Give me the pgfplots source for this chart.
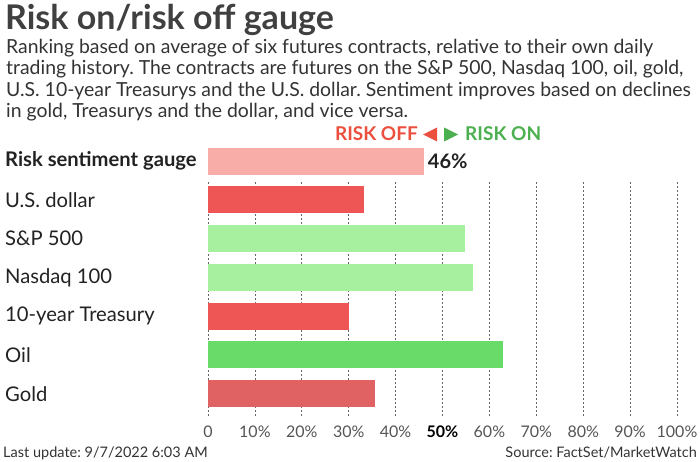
\documentclass[border=0pt]{standalone}
\usepackage{fontspec}
\setmainfont{Lato}
\usepackage{pgfplots}
\pgfplotsset{compat=1.18}
\definecolor{titlegray}{HTML}{404040}
\definecolor{subgray}{HTML}{333333}
\definecolor{labgray}{HTML}{222222}
\definecolor{tickgray}{HTML}{555555}
\definecolor{gridgray}{HTML}{666666}
\definecolor{cpink}{HTML}{F8ADA9}
\definecolor{cred}{HTML}{EE5555}
\definecolor{clgreen}{HTML}{A6F0A0}
\definecolor{cgreen}{HTML}{68DB68}
\definecolor{cgold}{HTML}{E06262}
\definecolor{offred}{HTML}{EB4F3E}
\definecolor{ongreen}{HTML}{4CAF50}
\frenchspacing
\begin{document}
\begin{tikzpicture}[x=1pt,y=1pt]
\path[use as bounding box] (0,0) rectangle (700,-462);
\node[anchor=base west, inner sep=0, text=titlegray, font=\fontsize{34}{36}\selectfont\bfseries] at (5,-30) {Risk on/risk off gauge};
\node[anchor=north west, inner sep=0, align=left, text=subgray, font=\fontsize{19.4}{21.5}\selectfont] at (6,-39) {Ranking based on average of six futures contracts, relative to their own daily\\trading history. The contracts are futures on the S\&P 500, Nasdaq 100, oil, gold,\\U.S. 10-year Treasurys and the U.S. dollar. Sentiment improves based on declines\\in gold, Treasurys and the dollar, and vice versa.};
% legend
\node[anchor=base east, inner sep=0, text=offred, font=\fontsize{19}{21}\selectfont\bfseries] at (418,-141) {RISK OFF};
\fill[offred] (423,-134.5) -- (437,-127.5) -- (437,-141.5) -- cycle;
\fill[ongreen] (458,-134.5) -- (444,-127.5) -- (444,-141.5) -- cycle;
\node[anchor=base west, inner sep=0, text=ongreen, font=\fontsize{19}{21}\selectfont\bfseries] at (465,-141) {RISK ON};
\begin{axis}[
  at={(208pt,-141.6pt)}, anchor=north west,
  scale only axis, width=469pt, height=271.6pt,
  xmin=0, xmax=100, ymin=-0.5, ymax=6.5, y dir=reverse,
  xbar, bar width=27pt, bar shift=0pt,
  clip=false,
  /pgf/number format/assume math mode=true,
  axis line style={draw=none},
  major tick length=0pt,
  xtick={0,10,...,100},
  xticklabels={0,10\%,20\%,30\%,40\%,{\textcolor{black}{\bfseries 50\%}},60\%,70\%,80\%,90\%,100\%},
  xticklabel style={anchor=base, inner sep=0, yshift=-24pt, text=tickgray, font=\fontsize{16}{18}\selectfont},
  ytick={0,...,6},
  yticklabels={{\bfseries Risk sentiment gauge},U.S. dollar,S\&P 500,Nasdaq 100,10-year Treasury,Oil,Gold},
  yticklabel style={anchor=west, inner sep=0, xshift=-203pt, text=labgray, font=\fontsize{20.2}{22}\selectfont},
]
\pgfplotsinvokeforeach{0,10,...,100}{
  \draw[gridgray, line width=0.8pt, dash pattern=on 1.5pt off 2.5pt] (axis cs:#1,0.55) -- (axis cs:#1,6.62);
}
\addplot[fill=cpink, draw=none, point meta=x, nodes near coords={\pgfmathprintnumber[assume math mode=true]{\pgfplotspointmeta}\%},
  nodes near coords style={anchor=west, inner sep=0, xshift=4pt, text=labgray, font=\fontsize{20}{22}\selectfont\bfseries}] coordinates {(46,0)};
\addplot[fill=cred, draw=none] coordinates {(33.3,1)};
\addplot[fill=clgreen, draw=none] coordinates {(54.8,2)};
\addplot[fill=clgreen, draw=none] coordinates {(56.6,3)};
\addplot[fill=cred, draw=none] coordinates {(30.1,4)};
\addplot[fill=cgreen, draw=none] coordinates {(62.9,5)};
\addplot[fill=cgold, draw=none] coordinates {(35.7,6)};
\end{axis}
\node[anchor=base west, inner sep=0, text=subgray, font=\fontsize{14.5}{16}\selectfont] at (3,-457) {Last update: 9/7/2022 6:03 AM};
\node[anchor=base east, inner sep=0, text=subgray, font=\fontsize{14.5}{16}\selectfont] at (697,-457) {Source: FactSet/MarketWatch};
\end{tikzpicture}
\end{document}
